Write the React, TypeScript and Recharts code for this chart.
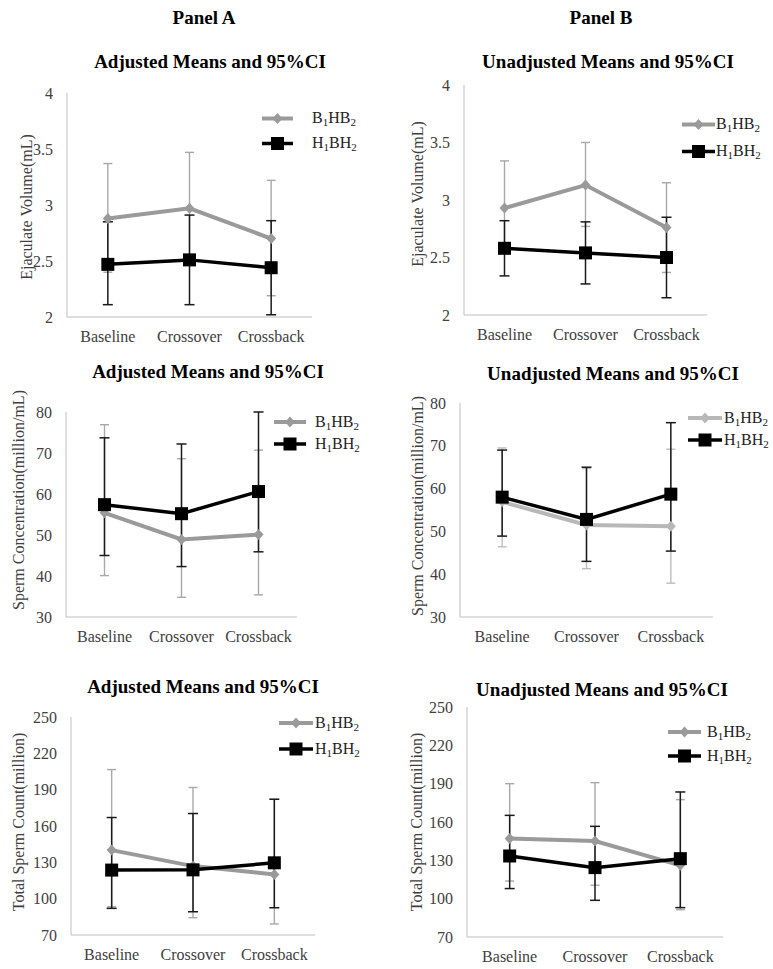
import React from "react";
import { LineChart, Line, XAxis, YAxis, ErrorBar, Legend } from "recharts";

const categories = ["Baseline", "Crossover", "Crossback"];
const seriesNames = ["B1HB2", "H1BH2"];
const panelHeaders = ["Panel A", "Panel B"];
const adjTitle = "Adjusted Means and 95%CI";
const unadjTitle = "Unadjusted Means and 95%CI";

const volLabel = "Ejaculate Volume(mL)";
const concLabel = "Sperm Concentration(million/mL)";
const countLabel = "Total Sperm Count(million)";

const volTicks = [2, 2.5, 3, 3.5, 4];
const concTicks = [30, 40, 50, 60, 70, 80];
const countTicks = [70, 100, 130, 160, 190, 220, 250];

// ejaculate volume, adjusted
const volAdjB = [2.88, 2.97, 2.7];
const volAdjBLow = [2.4, 2.47, 2.19];
const volAdjBHigh = [3.37, 3.47, 3.22];
const volAdjH = [2.47, 2.51, 2.44];
const volAdjHLow = [2.11, 2.11, 2.02];
const volAdjHHigh = [2.85, 2.91, 2.86];

// ejaculate volume, unadjusted
const volUnB = [2.93, 3.13, 2.76];
const volUnBLow = [2.54, 2.77, 2.37];
const volUnBHigh = [3.34, 3.5, 3.15];
const volUnH = [2.58, 2.54, 2.5];
const volUnHLow = [2.34, 2.27, 2.15];
const volUnHHigh = [2.82, 2.81, 2.85];

// sperm concentration, adjusted
const concAdjB = [55.4, 48.9, 50.1];
const concAdjBLow = [40.1, 34.8, 35.4];
const concAdjBHigh = [76.9, 68.6, 70.7];
const concAdjH = [57.4, 55.2, 60.6];
const concAdjHLow = [45.0, 42.3, 45.9];
const concAdjHHigh = [73.7, 72.2, 80.0];

// sperm concentration, unadjusted
const concUnB = [56.9, 51.5, 51.2];
const concUnBLow = [46.4, 41.3, 37.9];
const concUnBHigh = [69.5, 64.7, 69.2];
const concUnH = [58.0, 52.8, 58.7];
const concUnHLow = [48.9, 43.0, 45.4];
const concUnHHigh = [69.0, 65.0, 75.4];

// total sperm count, adjusted
const countAdjB = [140.1, 126.9, 120.0];
const countAdjBLow = [93.3, 84.3, 79.1];
const countAdjBHigh = [206.6, 191.8, 182.0];
const countAdjH = [123.6, 123.8, 129.6];
const countAdjHLow = [92.0, 89.2, 92.5];
const countAdjHHigh = [167.0, 170.3, 182.1];

// total sperm count, unadjusted
const countUnB = [147.0, 145.1, 126.1];
const countUnBLow = [113.8, 110.5, 91.4];
const countUnBHigh = [190.0, 190.8, 177.5];
const countUnH = [133.4, 124.3, 131.3];
const countUnHLow = [107.9, 98.7, 93.0];
const countUnHHigh = [165.2, 156.6, 183.5];

const FONT = "'Liberation Serif', 'Times New Roman', serif";
const AXIS = "#bfbfbf";
const TEXT = "#404040";
const BLACK = "#000";
const TOP = 40;

const Diamond = ({ cx, cy, fill }: { cx: number; cy: number; fill: string }) => (
  <polygon
    points={`${cx},${cy - 5.5} ${cx + 5},${cy} ${cx},${cy + 5.5} ${cx - 5},${cy}`}
    fill={fill}
  />
);

const Square = ({ cx, cy }: { cx: number; cy: number }) => (
  <rect x={cx - 6.5} y={cy - 6.5} width={13} height={13} fill={BLACK} />
);

function subName(s: string) {
  return s.split(/(\d)/).map((part, i) =>
    /\d/.test(part) ? (
      <sub key={i} style={{ fontSize: 11, verticalAlign: -3, lineHeight: 0 }}>
        {part}
      </sub>
    ) : (
      <span key={i}>{part}</span>
    )
  );
}

type Layout = {
  boxX: number;
  plot: [number, number, number, number];
  label: [number, number];
  legend: { x: number; len: number; textX: number; y: number; gap: number };
  gray?: string;
  errGray?: string;
};

type PanelProps = {
  yLabel: string;
  b: number[];
  bLow: number[];
  bHigh: number[];
  h: number[];
  hLow: number[];
  hHigh: number[];
  domain: [number, number];
  ticks: number[];
  layout: Layout;
};

function ChartPanel(p: PanelProps) {
  const { layout } = p;
  const [pl, pt, pr, pb] = layout.plot;
  const boxX = layout.boxX;
  const boxY = pt - TOP;
  const boxW = 385;
  const boxH = pb - pt + TOP + 40;
  const pad = (pr - pl) / 6;
  const gray = layout.gray ?? "#9a9a9a";
  const errGray = layout.errGray ?? "#a8a8a8";
  const lg = layout.legend;
  const lx = layout.label[0] - boxX;
  const ly = layout.label[1] - boxY;

  const rows = categories.map((name, i) => ({
    name,
    b: p.b[i],
    bErr: [p.b[i] - p.bLow[i], p.bHigh[i] - p.b[i]],
    h: p.h[i],
    hErr: [p.h[i] - p.hLow[i], p.hHigh[i] - p.h[i]],
  }));

  const renderLegend = (props: any) => (
    <div style={{ fontFamily: FONT }}>
      {(props.payload || []).map((entry: any) => {
        const isB = entry.dataKey === "b";
        const mid = lg.gap / 2;
        return (
          <div key={entry.dataKey} style={{ display: "flex", alignItems: "center", height: lg.gap }}>
            <svg width={lg.textX - lg.x} height={lg.gap}>
              <line x1={0} x2={lg.len} y1={mid} y2={mid} stroke={isB ? gray : BLACK} strokeWidth={isB ? 4 : 3.5} />
              {isB ? <Diamond cx={lg.len / 2} cy={mid} fill={gray} /> : <Square cx={lg.len / 2} cy={mid} />}
            </svg>
            <span style={{ fontSize: 16, color: "#222", lineHeight: 1 }}>{subName(entry.value)}</span>
          </div>
        );
      })}
    </div>
  );

  return (
    <div style={{ position: "absolute", left: boxX, top: boxY }}>
      <LineChart
        width={boxW}
        height={boxH}
        data={rows}
        margin={{ top: TOP, right: boxX + boxW - pr, bottom: 10, left: pl - boxX - 40 }}
      >
        <XAxis
          dataKey="name"
          padding={{ left: pad, right: pad }}
          tickLine={false}
          axisLine={{ stroke: AXIS }}
          tick={{ fill: TEXT, fontSize: 16, fontFamily: FONT }}
          tickSize={0}
          tickMargin={14}
          interval={0}
          height={30}
        />
        <YAxis
          type="number"
          domain={p.domain}
          ticks={p.ticks}
          allowDataOverflow
          width={40}
          tickLine={false}
          axisLine={{ stroke: AXIS }}
          tick={{ fill: TEXT, fontSize: 16, fontFamily: FONT }}
          tickSize={0}
          tickMargin={14}
          interval={0}
          label={() => (
            <text
              x={lx}
              y={ly}
              transform={`rotate(-90, ${lx}, ${ly})`}
              textAnchor="middle"
              dominantBaseline="central"
              fill={TEXT}
              fontSize={16}
              fontFamily={FONT}
            >
              {p.yLabel}
            </text>
          )}
        />
        <Legend
          layout="vertical"
          align="center"
          verticalAlign="middle"
          wrapperStyle={{ left: lg.x - boxX, top: lg.y - boxY - lg.gap / 2, width: 110 }}
          content={renderLegend}
        />
        <Line
          dataKey="b"
          name={seriesNames[0]}
          stroke={gray}
          strokeWidth={4}
          isAnimationActive={false}
          dot={(d: any) => <Diamond key={`b-${d.index}`} cx={d.cx} cy={d.cy} fill={gray} />}
          activeDot={false}
        >
          <ErrorBar dataKey="bErr" direction="y" width={4.5} strokeWidth={1.4} stroke={errGray} />
        </Line>
        <Line
          dataKey="h"
          name={seriesNames[1]}
          stroke={BLACK}
          strokeWidth={3.5}
          isAnimationActive={false}
          dot={(d: any) => <Square key={`h-${d.index}`} cx={d.cx} cy={d.cy} />}
          activeDot={false}
        >
          <ErrorBar dataKey="hErr" direction="y" width={5} strokeWidth={1.5} stroke="#1a1a1a" />
        </Line>
      </LineChart>
    </div>
  );
}

const titleStyle = { fontFamily: FONT, fontWeight: 700, fontSize: 19, fill: "#000" };

export default function App() {
  return (
    <div style={{ position: "absolute", left: 0, top: 0, width: 773, height: 969, background: "#fff" }}>
      <svg width={773} height={969} style={{ position: "absolute", left: 0, top: 0 }}>
        <text x={204} y={24} textAnchor="middle" {...titleStyle}>{panelHeaders[0]}</text>
        <text x={601} y={24} textAnchor="middle" {...titleStyle}>{panelHeaders[1]}</text>
        <text x={210} y={68} textAnchor="middle" {...titleStyle}>{adjTitle}</text>
        <text x={608} y={68} textAnchor="middle" {...titleStyle}>{unadjTitle}</text>
        <text x={208} y={378} textAnchor="middle" {...titleStyle}>{adjTitle}</text>
        <text x={613} y={380} textAnchor="middle" {...titleStyle}>{unadjTitle}</text>
        <text x={203} y={693} textAnchor="middle" {...titleStyle}>{adjTitle}</text>
        <text x={602} y={696} textAnchor="middle" {...titleStyle}>{unadjTitle}</text>
      </svg>

      <ChartPanel
        yLabel={volLabel}
        b={volAdjB} bLow={volAdjBLow} bHigh={volAdjBHigh}
        h={volAdjH} hLow={volAdjHLow} hHigh={volAdjHHigh}
        domain={[2, 4]} ticks={volTicks}
        layout={{ boxX: 0, plot: [67, 93, 312, 317], label: [26, 207], legend: { x: 262, len: 31, textX: 312, y: 118, gap: 25 } }}
      />
      <ChartPanel
        yLabel={volLabel}
        b={volUnB} bLow={volUnBLow} bHigh={volUnBHigh}
        h={volUnH} hLow={volUnHLow} hHigh={volUnHHigh}
        domain={[2, 4]} ticks={volTicks}
        layout={{ boxX: 388, plot: [464, 85, 707, 315], label: [417, 194], legend: { x: 682, len: 33, textX: 716, y: 124, gap: 27 } }}
      />
      <ChartPanel
        yLabel={concLabel}
        b={concAdjB} bLow={concAdjBLow} bHigh={concAdjBHigh}
        h={concAdjH} hLow={concAdjHLow} hHigh={concAdjHHigh}
        domain={[30, 80]} ticks={concTicks}
        layout={{ boxX: 0, plot: [66, 412, 297, 617], label: [18, 500], legend: { x: 274, len: 32, textX: 315, y: 422, gap: 22 } }}
      />
      <ChartPanel
        yLabel={concLabel}
        b={concUnB} bLow={concUnBLow} bHigh={concUnBHigh}
        h={concUnH} hLow={concUnHLow} hHigh={concUnHHigh}
        domain={[30, 80]} ticks={concTicks}
        layout={{ boxX: 388, plot: [460, 403, 713, 617], label: [417, 506], legend: { x: 688, len: 34, textX: 724, y: 418, gap: 22 }, gray: "#b8b8b8", errGray: "#bdbdbd" }}
      />
      <ChartPanel
        yLabel={countLabel}
        b={countAdjB} bLow={countAdjBLow} bHigh={countAdjBHigh}
        h={countAdjH} hLow={countAdjHLow} hHigh={countAdjHHigh}
        domain={[70, 250]} ticks={countTicks}
        layout={{ boxX: 0, plot: [71, 717, 315, 935], label: [18, 822], legend: { x: 279, len: 34, textX: 315, y: 723, gap: 26 } }}
      />
      <ChartPanel
        yLabel={countLabel}
        b={countUnB} bLow={countUnBLow} bHigh={countUnBHigh}
        h={countUnH} hLow={countUnHLow} hHigh={countUnHHigh}
        domain={[70, 250]} ticks={countTicks}
        layout={{ boxX: 388, plot: [467, 707, 723, 937], label: [416, 822], legend: { x: 668, len: 33, textX: 707, y: 732, gap: 24 } }}
      />
    </div>
  );
}
